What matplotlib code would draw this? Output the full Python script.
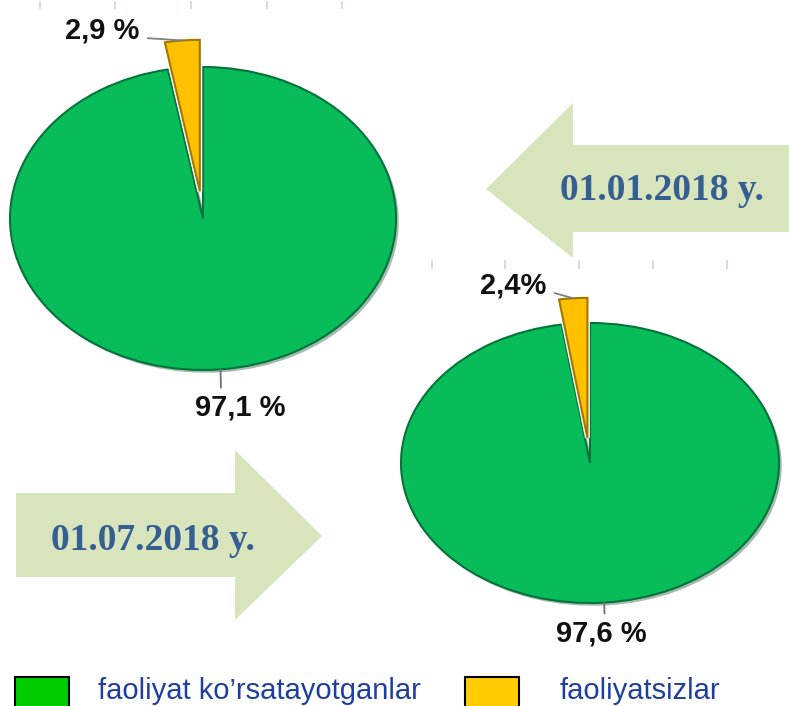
import matplotlib.pyplot as plt
import matplotlib.patheffects as pe
from matplotlib.patches import Polygon, Rectangle
import numpy as np

# data
categories = ["faoliyat ko\u2019rsatayotganlar", "faoliyatsizlar"]
dates = ["01.01.2018 y.", "01.07.2018 y."]
shares_jan = [97.1, 2.9]
shares_jul = [97.6, 2.4]
labels_jan = ["97,1 %", "2,9 %"]
labels_jul = ["97,6 %", "2,4%"]

pie_colors = ["#08BC5A", "#FFC000"]
pie_edges = ["#04743A", "#A07800"]
legend_colors = ["#00CC00", "#FFCC00"]
arrow_color = "#D7E4BC"
date_color = "#365F91"
legend_text_color = "#1E3FA0"

plt.rcParams['font.family'] = ['Liberation Sans', 'DejaVu Sans']

W, H = 789, 706
fig = plt.figure(figsize=(W / 100, H / 100), dpi=100)

# background axes in pixel coordinates
bg = fig.add_axes([0, 0, 1, 1])
bg.set_xlim(0, W)
bg.set_ylim(H, 0)
bg.set_axis_off()

# faint frame ticks left over from the source charts
for x in [40, 115, 191, 267, 342]:
    bg.plot([x, x], [2, 8], color="#CCD4E4", lw=1.2)
for x in [432, 505, 579, 653, 727]:
    bg.plot([x, x], [261, 268], color="#CCD4E4", lw=1.2)

# arrows
left_arrow = [(789, 145), (573, 145), (573, 103), (486, 189),
              (573, 258), (573, 232), (789, 232)]
right_arrow = [(16, 493), (235, 493), (235, 450), (322, 536),
               (235, 620), (235, 577), (16, 577)]
bg.add_patch(Polygon(left_arrow, closed=True, color=arrow_color, lw=0))
bg.add_patch(Polygon(right_arrow, closed=True, color=arrow_color, lw=0))
bg.text(662, 191, dates[0], fontsize=27, fontweight="bold", color=date_color,
        family="Liberation Serif", ha="center", va="center")
bg.text(153, 541, dates[1], fontsize=27, fontweight="bold", color=date_color,
        family="Liberation Serif", ha="center", va="center")

# legend
bg.add_patch(Rectangle((15, 677), 54, 32, facecolor=legend_colors[0],
                       edgecolor="black", lw=1.5, clip_on=False))
bg.add_patch(Rectangle((465, 677), 54, 32, facecolor=legend_colors[1],
                       edgecolor="black", lw=1.5, clip_on=False))
bg.text(98, 699, categories[0], fontsize=21, color=legend_text_color,
        ha="left", va="baseline")
bg.text(560, 699, categories[1], fontsize=21, color=legend_text_color,
        ha="left", va="baseline")


def draw_pie(cx, cy, hw, hh, values, labels, small_text, small_rel, big_text, big_rel):
    lim = 1.4
    aw, ah = 2 * lim * hw, 2 * lim * hh
    ax = fig.add_axes([(cx - aw / 2) / W, (H - cy - ah / 2) / H, aw / W, ah / H])
    wedges, _ = ax.pie(values, colors=pie_colors, startangle=90, counterclock=False,
                       explode=[0, 0.18], radius=1)
    ax.set_aspect("auto")
    ax.set_xlim(-lim, lim)
    ax.set_ylim(-lim, lim)
    ax.set_axis_off()
    for w, ec in zip(wedges, pie_edges):
        w.set_edgecolor(ec)
        w.set_linewidth(1.5)
    wedges[1].set_path_effects([pe.withStroke(linewidth=3.5, foreground="white")])
    # soft shadow on the big slice
    wedges[0].set_path_effects([pe.SimplePatchShadow(offset=(2, -2), alpha=0.35),
                                pe.Normal()])

    # label anchor points from wedge geometry
    pts = []
    for w in wedges:
        ang = np.deg2rad((w.theta1 + w.theta2) / 2)
        cxw, cyw = w.center
        pts.append((cxw + w.r * np.cos(ang), cyw + w.r * np.sin(ang)))

    ax.annotate(labels[1], xy=pts[1], xytext=small_text, textcoords="data",
                ha="right", va="center", fontsize=21, fontweight="bold", color="#111111",
                annotation_clip=False,
                arrowprops=dict(arrowstyle="-", color="#808080", lw=1.3,
                                relpos=small_rel, shrinkA=4, shrinkB=0))
    ax.annotate(labels[0], xy=pts[0], xytext=big_text, textcoords="data",
                ha="center", va="center", fontsize=21, fontweight="bold", color="#111111",
                annotation_clip=False,
                arrowprops=dict(arrowstyle="-", color="#707070", lw=1.3,
                                relpos=big_rel, shrinkA=2, shrinkB=0))


draw_pie(203, 218.5, 193, 151.5, shares_jan, labels_jan,
         (-0.33, 1.24), (1, 0.25), (0.192, -1.245), (0.29, 1))
draw_pie(590, 463, 189, 140, shares_jul, labels_jul,
         (-0.23, 1.27), (1, 0.3), (0.058, -1.215), (0.54, 1))

fig.savefig("out.png", dpi=100)
